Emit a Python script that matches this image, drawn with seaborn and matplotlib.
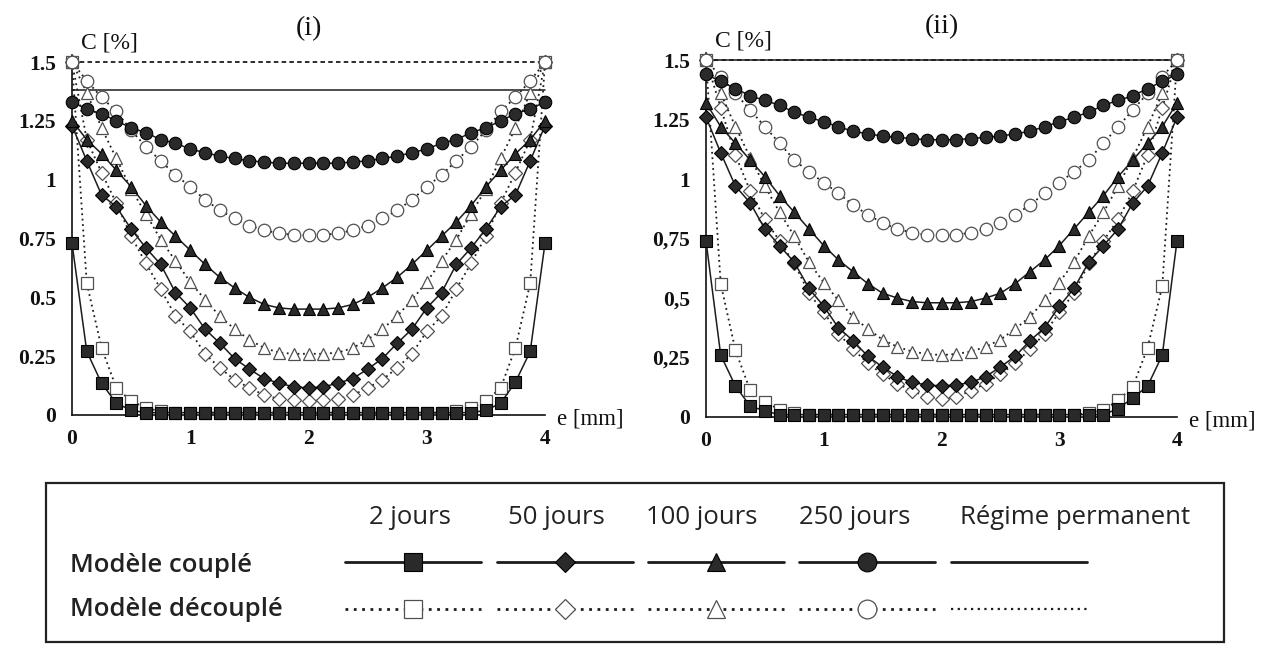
import matplotlib
matplotlib.use("Agg")
import matplotlib.pyplot as plt
from matplotlib.patches import Rectangle
import seaborn as sns

# thickness e [mm], one node every 0.125 mm
e_mm = [0, 0.125, 0.25, 0.375, 0.5, 0.625, 0.75, 0.875, 1.0, 1.125, 1.25, 1.375,
        1.5, 1.625, 1.75, 1.875, 2.0, 2.125, 2.25, 2.375, 2.5, 2.625, 2.75, 2.875,
        3.0, 3.125, 3.25, 3.375, 3.5, 3.625, 3.75, 3.875, 4.0]

durations = ["2 jours", "50 jours", "100 jours", "250 jours", "Régime permanent"]
row_labels = ["Modèle couplé", "Modèle découplé"]

# ---- panel (i) : C [%] ----
c2_i = [0.73, 0.27, 0.135, 0.05, 0.02, 0.01, 0.01, 0.01, 0.01, 0.01, 0.01, 0.01,
        0.01, 0.01, 0.01, 0.01, 0.01, 0.01, 0.01, 0.01, 0.01, 0.01, 0.01, 0.01,
        0.01, 0.01, 0.01, 0.01, 0.02, 0.05, 0.14, 0.27, 0.73]
d2_i = [1.5, 0.56, 0.285, 0.115, 0.06, 0.03, 0.015, 0.01, 0.01, 0.01, 0.01, 0.01,
        0.01, 0.01, 0.01, 0.01, 0.01, 0.01, 0.01, 0.01, 0.01, 0.01, 0.01, 0.01,
        0.01, 0.01, 0.015, 0.03, 0.06, 0.115, 0.285, 0.56, 1.5]
c50_i = [1.23, 1.08, 0.935, 0.885, 0.79, 0.71, 0.64, 0.52, 0.455, 0.365, 0.305, 0.24,
         0.195, 0.155, 0.135, 0.12, 0.115, 0.12, 0.135, 0.155, 0.195, 0.24, 0.305, 0.365,
         0.455, 0.52, 0.64, 0.71, 0.79, 0.885, 0.935, 1.08, 1.23]
d50_i = [1.5, 1.17, 1.03, 0.90, 0.76, 0.645, 0.535, 0.42, 0.355, 0.26, 0.20, 0.15,
         0.115, 0.085, 0.068, 0.062, 0.06, 0.062, 0.068, 0.085, 0.115, 0.15, 0.20, 0.26,
         0.355, 0.42, 0.535, 0.645, 0.76, 0.90, 1.03, 1.17, 1.5]
c100_i = [1.25, 1.17, 1.11, 1.04, 0.97, 0.89, 0.82, 0.76, 0.70, 0.64, 0.585, 0.54,
          0.50, 0.47, 0.455, 0.45, 0.45, 0.45, 0.455, 0.47, 0.50, 0.54, 0.585, 0.64,
          0.70, 0.76, 0.82, 0.89, 0.97, 1.04, 1.11, 1.17, 1.25]
d100_i = [1.5, 1.37, 1.22, 1.09, 0.96, 0.855, 0.745, 0.655, 0.565, 0.49, 0.42, 0.365,
          0.32, 0.285, 0.265, 0.26, 0.26, 0.26, 0.265, 0.285, 0.32, 0.365, 0.42, 0.49,
          0.565, 0.655, 0.745, 0.855, 0.96, 1.09, 1.22, 1.37, 1.5]
c250_i = [1.33, 1.30, 1.28, 1.25, 1.22, 1.20, 1.17, 1.155, 1.13, 1.115, 1.10, 1.09,
          1.08, 1.075, 1.07, 1.07, 1.07, 1.07, 1.07, 1.075, 1.08, 1.09, 1.10, 1.115,
          1.13, 1.155, 1.17, 1.20, 1.22, 1.25, 1.28, 1.30, 1.33]
d250_i = [1.5, 1.42, 1.35, 1.29, 1.21, 1.14, 1.08, 1.02, 0.97, 0.915, 0.87, 0.835,
          0.805, 0.785, 0.772, 0.765, 0.763, 0.765, 0.772, 0.785, 0.805, 0.835, 0.87, 0.915,
          0.97, 1.02, 1.08, 1.14, 1.21, 1.29, 1.35, 1.42, 1.5]
perm_c_i = 1.38
perm_d_i = 1.5

# ---- panel (ii) : C [%] ----
c2_ii = [0.74, 0.26, 0.13, 0.046, 0.025, 0.01, 0.01, 0.01, 0.01, 0.01, 0.01, 0.01,
         0.01, 0.01, 0.01, 0.01, 0.01, 0.01, 0.01, 0.01, 0.01, 0.01, 0.01, 0.01,
         0.01, 0.01, 0.01, 0.01, 0.035, 0.08, 0.13, 0.26, 0.74]
d2_ii = [1.5, 0.56, 0.28, 0.113, 0.065, 0.03, 0.015, 0.01, 0.01, 0.01, 0.01, 0.01,
         0.01, 0.01, 0.01, 0.01, 0.01, 0.01, 0.01, 0.01, 0.01, 0.01, 0.01, 0.01,
         0.01, 0.01, 0.015, 0.03, 0.07, 0.127, 0.29, 0.55, 1.5]
c50_ii = [1.26, 1.11, 0.97, 0.90, 0.79, 0.72, 0.65, 0.54, 0.465, 0.375, 0.32, 0.255,
          0.21, 0.17, 0.145, 0.135, 0.13, 0.135, 0.145, 0.17, 0.21, 0.255, 0.32, 0.375,
          0.465, 0.54, 0.65, 0.72, 0.79, 0.90, 0.97, 1.11, 1.26]
d50_ii = [1.5, 1.30, 1.10, 0.95, 0.83, 0.74, 0.645, 0.52, 0.44, 0.35, 0.285, 0.225,
          0.18, 0.14, 0.11, 0.085, 0.075, 0.085, 0.11, 0.14, 0.18, 0.225, 0.285, 0.35,
          0.44, 0.52, 0.645, 0.74, 0.83, 0.95, 1.10, 1.30, 1.5]
c100_ii = [1.32, 1.22, 1.15, 1.08, 1.01, 0.93, 0.86, 0.79, 0.72, 0.66, 0.61, 0.56,
           0.52, 0.50, 0.485, 0.48, 0.48, 0.48, 0.485, 0.50, 0.52, 0.56, 0.61, 0.66,
           0.72, 0.79, 0.86, 0.93, 1.01, 1.08, 1.15, 1.22, 1.32]
d100_ii = [1.5, 1.36, 1.22, 1.09, 0.97, 0.86, 0.76, 0.65, 0.565, 0.49, 0.42, 0.37,
           0.325, 0.295, 0.275, 0.265, 0.26, 0.265, 0.275, 0.295, 0.325, 0.37, 0.42, 0.49,
           0.565, 0.65, 0.76, 0.86, 0.97, 1.09, 1.22, 1.36, 1.5]
c250_ii = [1.44, 1.41, 1.38, 1.35, 1.33, 1.31, 1.28, 1.26, 1.24, 1.22, 1.20, 1.19,
           1.18, 1.175, 1.17, 1.165, 1.165, 1.165, 1.17, 1.175, 1.18, 1.19, 1.20, 1.22,
           1.24, 1.26, 1.28, 1.31, 1.33, 1.35, 1.38, 1.41, 1.44]
d250_ii = [1.5, 1.43, 1.36, 1.29, 1.22, 1.15, 1.08, 1.03, 0.985, 0.94, 0.89, 0.85,
           0.815, 0.79, 0.775, 0.765, 0.765, 0.765, 0.775, 0.79, 0.815, 0.85, 0.89, 0.94,
           0.985, 1.03, 1.08, 1.15, 1.22, 1.29, 1.36, 1.43, 1.5]
perm_c_ii = 1.5
perm_d_ii = 1.5

x_ticks = [0, 1, 2, 3, 4]
y_ticks = [0, 0.25, 0.5, 0.75, 1, 1.25, 1.5]
y_labels_i = ["0", "0.25", "0.5", "0.75", "1", "1.25", "1.5"]
y_labels_ii = ["0", "0,25", "0,5", "0,75", "1", "1.25", "1.5"]

sns.set_style("white")
plt.rcParams["font.family"] = ["Liberation Serif", "DejaVu Serif"]

markers = ["s", "D", "^", "o"]
msizes = [8.5, 7, 9, 9]
DARK = "#1c1c1c"

fig = plt.figure(figsize=(12.71, 6.47), dpi=100)
ax1 = fig.add_axes([72 / 1271, 1 - 415 / 647, 473 / 1271, 0.5565])
ax2 = fig.add_axes([706 / 1271, 1 - 417 / 647, 471 / 1271, 0.5628])


def draw_panel(ax, coupled, decoupled, perm_c, perm_d, ylabels, title):
    handles = []
    for k in range(4):
        sns.lineplot(x=e_mm, y=coupled[k], ax=ax, color=DARK, lw=1.1, ls="-",
                     marker=markers[k], ms=msizes[k], mfc="#2a2a2a", mec="#000000",
                     mew=0.8, clip_on=False, zorder=4)
        hc = ax.lines[-1]
        sns.lineplot(x=e_mm, y=decoupled[k], ax=ax, color=DARK, lw=1.3, ls=(0, (1, 2)),
                     marker=markers[k], ms=msizes[k], mfc="white", mec="#505050",
                     mew=0.9, clip_on=False, zorder=3)
        hd = ax.lines[-1]
        handles += [hc, hd]
    hc = ax.axhline(perm_c, color=DARK, lw=1.1, ls="-", clip_on=False, zorder=2)
    hd = ax.axhline(perm_d, color=DARK, lw=1.3, ls=(0, (2.5, 1.8)), clip_on=False, zorder=2)
    handles += [hc, hd]

    ax.set_xlim(0, 4)
    ax.set_ylim(0, 1.53)
    ax.set_xticks(x_ticks)
    ax.set_xticklabels([str(t) for t in x_ticks])
    ax.set_yticks(y_ticks)
    ax.set_yticklabels(ylabels)
    sns.despine(ax=ax)
    for s in ["left", "bottom"]:
        ax.spines[s].set_color("#111111")
        ax.spines[s].set_linewidth(1.2)
    ax.tick_params(axis="x", direction="out", length=5, width=1.1, pad=5,
                   labelsize=15.5, colors="#111111")
    ax.tick_params(axis="y", direction="inout", length=7, width=1.1, pad=8,
                   labelsize=15.5, colors="#111111")
    for lab in ax.get_xticklabels() + ax.get_yticklabels():
        lab.set_fontweight("bold")
    ax.set_xlabel("")
    ax.set_ylabel("")
    ax.text(0.08, 1.58, "C [%]", fontsize=17, va="center", ha="left", color="#111111")
    ax.text(4.1, -0.015, "e [mm]", fontsize=16.5, va="center", ha="left", color="#111111",
            clip_on=False)
    ax.text(2, 1.64, title, fontsize=20, va="center", ha="center", color="#111111")
    return handles


h1 = draw_panel(ax1, [c2_i, c50_i, c100_i, c250_i], [d2_i, d50_i, d100_i, d250_i],
                perm_c_i, perm_d_i, y_labels_i, "(i)")
draw_panel(ax2, [c2_ii, c50_ii, c100_ii, c250_ii], [d2_ii, d50_ii, d100_ii, d250_ii],
           perm_c_ii, perm_d_ii, y_labels_ii, "(ii)")

# legend table at the bottom
fig.patches.append(Rectangle((46 / 1271, 5 / 647), 1178 / 1271, 159 / 647,
                             transform=fig.transFigure, fill=False, lw=1.6,
                             ec="#222222"))
leg = fig.legend(h1, [""] * 10, ncol=5, loc="center",
                 bbox_to_anchor=(716 / 1271, 1 - 587 / 647), frameon=False,
                 handlelength=9.8, handletextpad=0, columnspacing=1.1,
                 labelspacing=2.4, prop={"size": 10}, markerscale=1.5, borderpad=0)
for ln in leg.get_lines():
    ln.set_linewidth(2.0)
leg.get_lines()[-1].set_linestyle((0, (1, 2)))
leg.get_lines()[-1].set_linewidth(1.6)

header_x = [410, 556, 702, 855, 1075]
for name, xp in zip(durations, header_x):
    fig.text(xp / 1271, 1 - 517 / 647, name, ha="center", va="center",
             fontsize=18.5, family=["Open Sans", "DejaVu Sans"], color="#222222")
for name, yp in zip(row_labels, [566, 610]):
    fig.text(70 / 1271, 1 - yp / 647, name, ha="left", va="center",
             fontsize=18.5, fontweight="semibold", family=["Open Sans", "DejaVu Sans"],
             color="#222222")

fig.savefig("out.png", dpi=100)
